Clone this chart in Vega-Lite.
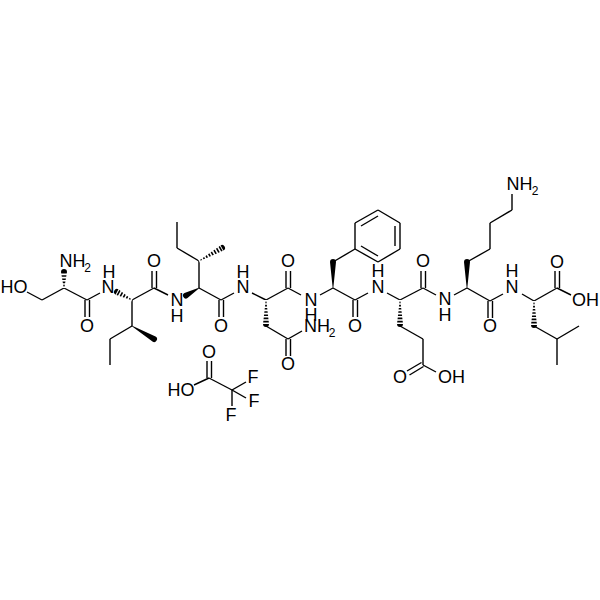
{
  "$schema": "https://vega.github.io/schema/vega-lite/v6.json",
  "width": 600,
  "height": 600,
  "padding": 0,
  "autosize": "none",
  "background": "white",
  "config": {"view": {"stroke": null}},
  "datasets": {
    "bonds": [
      {"x":27,"y":292,"x2":42,"y2":300},{"x":42,"y":300,"x2":64,"y2":288},{"x":64,"y":288,"x2":87,"y2":300},
      {"x":85,"y":300,"x2":85,"y2":317},{"x":89.5,"y":300,"x2":89.5,"y2":317},{"x":87,"y":300,"x2":100,"y2":293},
      {"x":132,"y":300,"x2":154,"y2":288},{"x":152,"y":288,"x2":152,"y2":271},{"x":156.5,"y":288,"x2":156.5,"y2":271},
      {"x":154,"y":288,"x2":168,"y2":295},{"x":132,"y":300,"x2":132,"y2":326},{"x":132,"y":326,"x2":110,"y2":339},{"x":110,"y":339,"x2":110,"y2":365},
      {"x":199,"y":288,"x2":199,"y2":261},{"x":199,"y":261,"x2":177,"y2":248},{"x":177,"y":248,"x2":177,"y2":222},
      {"x":199,"y":288,"x2":221,"y2":300},{"x":219,"y":300,"x2":219,"y2":317},{"x":223.5,"y":300,"x2":223.5,"y2":317},{"x":221,"y":300,"x2":234,"y2":293},
      {"x":252,"y":293,"x2":266,"y2":300},{"x":266,"y":326,"x2":288,"y2":339},{"x":286,"y":339,"x2":286,"y2":356},{"x":290.5,"y":339,"x2":290.5,"y2":356},
      {"x":288,"y":339,"x2":302,"y2":331},{"x":266,"y":300,"x2":288,"y2":288},{"x":286,"y":288,"x2":286,"y2":271},{"x":290.5,"y":288,"x2":290.5,"y2":271},
      {"x":288,"y":288,"x2":301,"y2":295},{"x":320,"y":295,"x2":333,"y2":288},{"x":333,"y":262,"x2":355,"y2":249},
      {"x":355,"y":249,"x2":355,"y2":223},{"x":355,"y":223,"x2":378,"y2":210},{"x":378,"y":210,"x2":400,"y2":223},{"x":400,"y":223,"x2":400,"y2":249},{"x":400,"y":249,"x2":378,"y2":262},{"x":378,"y":262,"x2":355,"y2":249},
      {"x":361,"y":226,"x2":378,"y2":216},{"x":395,"y":226,"x2":395,"y2":246},{"x":361,"y":246,"x2":378,"y2":256},
      {"x":333,"y":288,"x2":355,"y2":300},{"x":353,"y":300,"x2":353,"y2":317},{"x":357.5,"y":300,"x2":357.5,"y2":317},{"x":355,"y":300,"x2":368,"y2":293},
      {"x":387,"y":293,"x2":400,"y2":300},{"x":400,"y":326,"x2":423,"y2":339},{"x":423,"y":339,"x2":423,"y2":365},
      {"x":421.5,"y":362.5,"x2":407,"y2":371},{"x":423.5,"y":366.5,"x2":409.5,"y2":375},{"x":423,"y":365,"x2":436,"y2":372},
      {"x":400,"y":300,"x2":423,"y2":288},{"x":421,"y":288,"x2":421,"y2":271},{"x":425.5,"y":288,"x2":425.5,"y2":271},
      {"x":423,"y":288,"x2":436,"y2":295},{"x":454,"y":295,"x2":467,"y2":288},{"x":467,"y":262,"x2":490,"y2":249},{"x":490,"y":249,"x2":490,"y2":223},
      {"x":490,"y":223,"x2":512,"y2":210},{"x":512,"y":210,"x2":512,"y2":194},{"x":467,"y":288,"x2":490,"y2":301},
      {"x":488,"y":301,"x2":488,"y2":318},{"x":492.5,"y":301,"x2":492.5,"y2":318},{"x":490,"y":301,"x2":503,"y2":294},{"x":522,"y":294,"x2":534,"y2":301},
      {"x":534,"y":326,"x2":557,"y2":339},{"x":557,"y":339,"x2":579,"y2":326},{"x":557,"y":339,"x2":557,"y2":365},
      {"x":534,"y":301,"x2":557,"y2":288},{"x":555,"y":288,"x2":555,"y2":271},{"x":559.5,"y":288,"x2":559.5,"y2":271},{"x":557,"y":288,"x2":571,"y2":295},
      {"x":194,"y":385,"x2":209,"y2":378},{"x":207,"y":378,"x2":207,"y2":361},{"x":211.5,"y":378,"x2":211.5,"y2":361},{"x":209,"y":378,"x2":232,"y2":390},
      {"x":232,"y":390,"x2":246,"y2":382},{"x":232,"y":390,"x2":246,"y2":398},{"x":232,"y":390,"x2":232,"y2":406}
    ],
    "wedges": [
      {"id":"ser_n","kind":"hash","step":0,"x":64,"y":288,"w":0.6},{"id":"ser_n","kind":"hash","step":1,"x":64,"y":272,"w":6},
      {"id":"ile1_n","kind":"hash","step":0,"x":132,"y":300,"w":0.6},{"id":"ile1_n","kind":"hash","step":1,"x":117,"y":292,"w":6},
      {"id":"ile1_me","kind":"wedge","step":0,"x":132,"y":326,"w":0.6},{"id":"ile1_me","kind":"wedge","step":1,"x":154,"y":339,"w":6},
      {"id":"ile2_n","kind":"wedge","step":0,"x":199,"y":288,"w":0.6},{"id":"ile2_n","kind":"wedge","step":1,"x":186,"y":295.5,"w":6},
      {"id":"ile2_me","kind":"hash","step":0,"x":199,"y":261,"w":0.6},{"id":"ile2_me","kind":"hash","step":1,"x":222,"y":248,"w":6},
      {"id":"asn_cb","kind":"hash","step":0,"x":266,"y":300,"w":0.6},{"id":"asn_cb","kind":"hash","step":1,"x":266,"y":324,"w":6},
      {"id":"phe_cb","kind":"wedge","step":0,"x":333,"y":288,"w":0.6},{"id":"phe_cb","kind":"wedge","step":1,"x":333,"y":262,"w":6},
      {"id":"glu_cb","kind":"hash","step":0,"x":400,"y":300,"w":0.6},{"id":"glu_cb","kind":"hash","step":1,"x":400,"y":324,"w":6},
      {"id":"lys_cb","kind":"wedge","step":0,"x":467,"y":288,"w":0.6},{"id":"lys_cb","kind":"wedge","step":1,"x":467,"y":262,"w":6},
      {"id":"leu_cb","kind":"hash","step":0,"x":534,"y":301,"w":0.6},{"id":"leu_cb","kind":"hash","step":1,"x":534,"y":325,"w":6}
    ],
    "atoms": [
      {"x":14,"y":288,"t":"HO"},{"x":72.5,"y":262,"t":"NH"},{"x":87,"y":327,"t":"O"},{"x":108,"y":288,"t":"N"},{"x":109,"y":273,"t":"H"},
      {"x":154,"y":262,"t":"O"},{"x":177,"y":301,"t":"N"},{"x":177,"y":317,"t":"H"},{"x":221,"y":327,"t":"O"},{"x":243,"y":288,"t":"N"},{"x":243,"y":273,"t":"H"},
      {"x":288,"y":262,"t":"O"},{"x":311,"y":301,"t":"N"},{"x":311,"y":316,"t":"H"},{"x":317,"y":327,"t":"NH"},{"x":288,"y":365,"t":"O"},
      {"x":355,"y":327,"t":"O"},{"x":378,"y":288,"t":"N"},{"x":378,"y":272,"t":"H"},{"x":423,"y":262,"t":"O"},{"x":445,"y":300,"t":"N"},{"x":445,"y":316,"t":"H"},
      {"x":400,"y":378,"t":"O"},{"x":451.5,"y":378,"t":"OH"},{"x":519.5,"y":185,"t":"NH"},{"x":490,"y":327,"t":"O"},{"x":512,"y":288,"t":"N"},{"x":512,"y":272,"t":"H"},
      {"x":557,"y":263,"t":"O"},{"x":585.5,"y":301,"t":"OH"},{"x":209,"y":353,"t":"O"},{"x":181,"y":391,"t":"HO"},{"x":253,"y":378,"t":"F"},{"x":254,"y":402,"t":"F"},{"x":231,"y":416,"t":"F"}
    ],
    "subs": [
      {"x":87.5,"y":268,"t":"2"},{"x":332,"y":333,"t":"2"},{"x":535,"y":191,"t":"2"}
    ]
  },
  "encoding": {
    "x": {"field": "x", "type": "quantitative", "axis": null, "scale": {"domain": [0, 600]}},
    "y": {"field": "y", "type": "quantitative", "axis": null, "scale": {"domain": [600, 0]}}
  },
  "layer": [
    {
      "data": {"name": "bonds"},
      "mark": {"type": "rule", "stroke": "#000000", "strokeWidth": 1.4},
      "encoding": {"x2": {"field": "x2"}, "y2": {"field": "y2"}}
    },
    {
      "data": {"name": "wedges"},
      "mark": {"type": "trail", "color": "#000000"},
      "encoding": {
        "detail": {"field": "id", "type": "nominal"},
        "order": {"field": "step", "type": "ordinal"},
        "size": {"field": "w", "type": "quantitative", "legend": null, "scale": {"domain": [0, 6], "range": [0, 6]}}
      }
    },
    {
      "data": {"name": "wedges"},
      "transform": [{"filter": "datum.kind == 'hash'"}],
      "mark": {"type": "line", "stroke": "white", "strokeWidth": 8, "strokeDash": [1.6, 1.6]},
      "encoding": {
        "detail": {"field": "id", "type": "nominal"},
        "order": {"field": "step", "type": "ordinal"}
      }
    },
    {
      "data": {"name": "atoms"},
      "mark": {"type": "text", "font": "Liberation Sans", "fontSize": 18, "color": "#000000", "baseline": "middle", "align": "center"},
      "encoding": {"text": {"field": "t"}}
    },
    {
      "data": {"name": "subs"},
      "mark": {"type": "text", "font": "Liberation Sans", "fontSize": 12, "color": "#000000", "baseline": "middle", "align": "center"},
      "encoding": {"text": {"field": "t"}}
    }
  ]
}
